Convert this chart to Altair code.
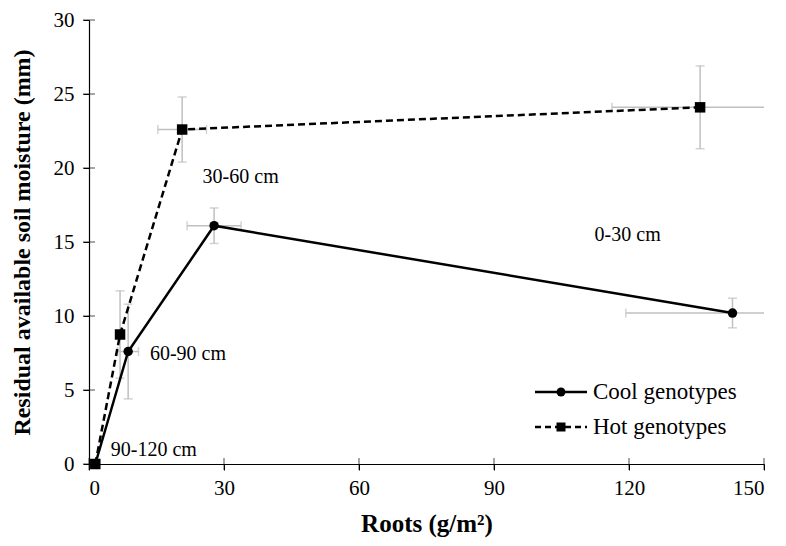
import altair as alt
import pandas as pd

# ---- data ----
cool_x = [1.4, 8.7, 27.8, 143.0]
cool_y = [0.0, 7.6, 16.1, 10.2]
cool_xerr = [0.0, 2.3, 6.0, 23.7]
cool_yerr = [0.0, 3.2, 1.2, 1.0]

hot_x = [1.4, 6.9, 20.7, 135.8]
hot_y = [0.0, 8.75, 22.6, 24.1]
hot_xerr = [0.0, 0.0, 5.4, 19.6]
hot_yerr = [0.0, 2.95, 2.2, 2.8]

depth_labels = ["30-60 cm", "0-30 cm", "60-90 cm", "90-120 cm"]
depth_lx = [33.7, 119.7, 22.0, 14.4]
depth_ly = [19.4, 15.5, 7.45, 0.94]

x_ticks = [0, 30, 60, 90, 120, 150]
y_ticks = [0, 5, 10, 15, 20, 25, 30]

series_names = ["Cool genotypes", "Hot genotypes"]

FONT = "Liberation Serif"
GREY = "#c0c0c0"

rows = []
for i in range(len(cool_x)):
    rows.append(dict(series=series_names[0], order=i, x=cool_x[i], y=cool_y[i],
                     xerr=cool_xerr[i], yerr=cool_yerr[i]))
for i in range(len(hot_x)):
    rows.append(dict(series=series_names[1], order=i, x=hot_x[i], y=hot_y[i],
                     xerr=hot_xerr[i], yerr=hot_yerr[i]))
df = pd.DataFrame(rows)
df["xlo"] = df["x"] - df["xerr"]
df["xhi"] = df["x"] + df["xerr"]
df["ylo"] = df["y"] - df["yerr"]
df["yhi"] = df["y"] + df["yerr"]

dfx = df[df["xerr"] > 0]
dfy = df[df["yerr"] > 0]

xs = alt.Scale(domain=[0, 150], nice=False)
ys = alt.Scale(domain=[0, 30], nice=False)

X = alt.X("x:Q", scale=xs, axis=alt.Axis(values=x_ticks, title="Roots (g/m²)"))
Y = alt.Y("y:Q", scale=ys,
          axis=alt.Axis(values=y_ticks, title="Residual available soil moisture (mm)"))

# error bars
vbar = alt.Chart(dfy).mark_rule(color=GREY, strokeWidth=1.5, clip=True).encode(
    x=alt.X("x:Q", scale=xs), y=alt.Y("ylo:Q", scale=ys), y2="yhi:Q")
vcap_lo = alt.Chart(dfy).mark_tick(color=GREY, thickness=1.5, size=9, orient="horizontal", clip=True).encode(
    x=alt.X("x:Q", scale=xs), y=alt.Y("ylo:Q", scale=ys))
vcap_hi = alt.Chart(dfy).mark_tick(color=GREY, thickness=1.5, size=9, orient="horizontal", clip=True).encode(
    x=alt.X("x:Q", scale=xs), y=alt.Y("yhi:Q", scale=ys))
hbar = alt.Chart(dfx).mark_rule(color=GREY, strokeWidth=1.5, clip=True).encode(
    y=alt.Y("y:Q", scale=ys), x=alt.X("xlo:Q", scale=xs), x2="xhi:Q")
hcap_lo = alt.Chart(dfx).mark_tick(color=GREY, thickness=1.5, size=9, orient="vertical", clip=True).encode(
    y=alt.Y("y:Q", scale=ys), x=alt.X("xlo:Q", scale=xs))
hcap_hi = alt.Chart(dfx).mark_tick(color=GREY, thickness=1.5, size=9, orient="vertical", clip=True).encode(
    y=alt.Y("y:Q", scale=ys), x=alt.X("xhi:Q", scale=xs))

# inner half of the crossing axis ticks
xt_df = pd.DataFrame({"x": x_ticks, "y": [0] * len(x_ticks)})
yt_df = pd.DataFrame({"y": y_ticks, "x": [0] * len(y_ticks)})
xticks_in = alt.Chart(xt_df).mark_tick(color="black", thickness=1, size=12, orient="vertical").encode(
    x=alt.X("x:Q", scale=xs), y=alt.Y("y:Q", scale=ys))
yticks_in = alt.Chart(yt_df).mark_tick(color="black", thickness=1, size=12, orient="horizontal").encode(
    x=alt.X("x:Q", scale=xs), y=alt.Y("y:Q", scale=ys))

cool_df = df[df["series"] == series_names[0]]
hot_df = df[df["series"] == series_names[1]]

cool_line = alt.Chart(cool_df).mark_line(color="black", strokeWidth=2.5).encode(
    x=X, y=Y, order="order:Q")
hot_line = alt.Chart(hot_df).mark_line(color="black", strokeWidth=2.5, strokeDash=[7, 4]).encode(
    x=X, y=Y, order="order:Q")
cool_pts = alt.Chart(cool_df).mark_point(shape="circle", filled=True, color="black", size=90, opacity=1).encode(
    x=X, y=Y)
hot_pts = alt.Chart(hot_df).mark_point(shape="square", filled=True, color="black", size=110, opacity=1).encode(
    x=X, y=Y)

lab_df = pd.DataFrame({"label": depth_labels, "x": depth_lx, "y": depth_ly})
labels = alt.Chart(lab_df).mark_text(font=FONT, fontSize=20, color="black", align="center", baseline="middle").encode(
    x=alt.X("x:Q", scale=xs), y=alt.Y("y:Q", scale=ys), text="label:N")

# manual legend (pixel positions inside the plot area)
leg_df = pd.DataFrame({"label": series_names})
LX0, LX1, LTX = 446, 498, 504
LY = [372, 407]
leg_cool_line = alt.Chart(leg_df.iloc[[0]]).mark_rule(color="black", strokeWidth=2.5).encode(
    x=alt.value(LX0), x2=alt.value(LX1), y=alt.value(LY[0]))
leg_hot_line = alt.Chart(leg_df.iloc[[1]]).mark_rule(color="black", strokeWidth=2.5, strokeDash=[6, 4]).encode(
    x=alt.value(LX0), x2=alt.value(LX1), y=alt.value(LY[1]))
leg_cool_pt = alt.Chart(leg_df.iloc[[0]]).mark_point(shape="circle", filled=True, color="black", size=80, opacity=1).encode(
    x=alt.value((LX0 + LX1) / 2), y=alt.value(LY[0]))
leg_hot_pt = alt.Chart(leg_df.iloc[[1]]).mark_point(shape="square", filled=True, color="black", size=81, opacity=1).encode(
    x=alt.value((LX0 + LX1) / 2), y=alt.value(LY[1]))
leg_cool_txt = alt.Chart(leg_df.iloc[[0]]).mark_text(font=FONT, fontSize=23, align="left", baseline="middle").encode(
    x=alt.value(LTX), y=alt.value(LY[0]), text="label:N")
leg_hot_txt = alt.Chart(leg_df.iloc[[1]]).mark_text(font=FONT, fontSize=23, align="left", baseline="middle").encode(
    x=alt.value(LTX), y=alt.value(LY[1]), text="label:N")

chart = alt.layer(
    vbar, vcap_lo, vcap_hi, hbar, hcap_lo, hcap_hi,
    xticks_in, yticks_in,
    cool_line, hot_line, cool_pts, hot_pts, labels,
    leg_cool_line, leg_hot_line, leg_cool_pt, leg_hot_pt, leg_cool_txt, leg_hot_txt,
).properties(
    width=675, height=444,
    autosize=alt.AutoSizeParams(type="none"),
    padding={"left": 81, "top": 12, "right": 14, "bottom": 74},
).configure_view(stroke=None).configure_axis(
    grid=False, domainColor="black", domainWidth=1.2, tickColor="black", tickSize=6, tickWidth=1,
    labelFont=FONT, labelFontSize=21, labelColor="black",
    titleFont=FONT, titleFontSize=24, titleFontWeight="bold", titleColor="black",
).configure_axisX(labelPadding=7, titlePadding=13, titleFontSize=25).configure_axisY(labelPadding=9, titlePadding=19)

chart.save("out.html", embed_options={"renderer": "svg", "actions": False})
